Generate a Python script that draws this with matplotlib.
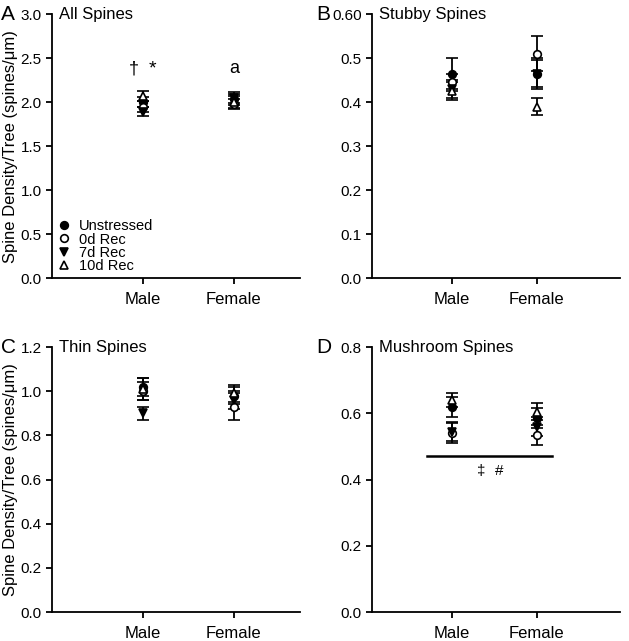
import numpy as np
import matplotlib
matplotlib.use("Agg")
import matplotlib.pyplot as plt
from matplotlib.lines import Line2D

plt.rcParams['font.family'] = ['Liberation Sans', 'DejaVu Sans']

groups = ["Unstressed", "0d Rec", "7d Rec", "10d Rec"]
sexes = ["Male", "Female"]

# mean values [male, female] for each group
all_mean = {"Unstressed": [2.00, 2.03], "0d Rec": [1.95, 1.98], "7d Rec": [1.89, 2.05], "10d Rec": [2.07, 2.00]}
all_err = {"Unstressed": [0.06, 0.06], "0d Rec": [0.06, 0.06], "7d Rec": [0.05, 0.06], "10d Rec": [0.06, 0.07]}
stubby_mean = {"Unstressed": [0.465, 0.465], "0d Rec": [0.445, 0.51], "7d Rec": [0.43, 0.465], "10d Rec": [0.425, 0.39]}
stubby_err = {"Unstressed": [0.035, 0.03], "0d Rec": [0.02, 0.04], "7d Rec": [0.02, 0.035], "10d Rec": [0.02, 0.02]}
thin_mean = {"Unstressed": [1.02, 0.98], "0d Rec": [1.00, 0.93], "7d Rec": [0.90, 0.96], "10d Rec": [1.01, 0.99]}
thin_err = {"Unstressed": [0.04, 0.04], "0d Rec": [0.04, 0.06], "7d Rec": [0.03, 0.04], "10d Rec": [0.05, 0.04]}
mush_mean = {"Unstressed": [0.62, 0.585], "0d Rec": [0.54, 0.535], "7d Rec": [0.545, 0.56], "10d Rec": [0.64, 0.605]}
mush_err = {"Unstressed": [0.03, 0.03], "0d Rec": [0.03, 0.03], "7d Rec": [0.03, 0.03], "10d Rec": [0.02, 0.025]}

stubby_ticklabels = ["0.0", "0.1", "0.2", "0.3", "0.4", "0.5", "0.60"]

styles = {"Unstressed": ("o", "black"), "0d Rec": ("o", "white"),
          "7d Rec": ("v", "black"), "10d Rec": ("^", "white")}

fig = plt.figure(figsize=(6.29, 6.41), dpi=100)


def panel(rect, letter, title, means, errs, ymax, ystep, xlim, ylabel, letter_x):
    ax = fig.add_axes(rect)
    x = np.arange(len(sexes))
    for g in groups:
        m, fc = styles[g]
        ax.errorbar(x, means[g], yerr=errs[g], fmt=m, color="black", mfc=fc, mec="black",
                    ms=5.5, mew=1.2, ecolor="black", elinewidth=1.3, capsize=4.5, capthick=1.3,
                    zorder=3)
    ax.set_xlim(*xlim)
    ax.set_ylim(0, ymax)
    ax.set_yticks(np.arange(0, ymax + ystep / 2, ystep))
    ax.set_yticklabels(["%.1f" % v for v in ax.get_yticks()])
    ax.set_xticks(x)
    ax.set_xticklabels(sexes)
    for s in ["top", "right"]:
        ax.spines[s].set_visible(False)
    for s in ["left", "bottom"]:
        ax.spines[s].set_linewidth(1.3)
    ax.tick_params(width=1.3, length=4, labelsize=11, direction="out")
    ax.tick_params(axis="x", labelsize=12, pad=6)
    if ylabel:
        ax.set_ylabel("Spine Density/Tree (spines/\u03bcm)", fontsize=12, labelpad=2)
    ax.text(letter_x, 1.0, letter, transform=ax.transAxes, fontsize=15,
            ha="left", va="center")
    ax.text(0.03, 1.0, title, transform=ax.transAxes, fontsize=12, ha="left", va="center")
    return ax


axA = panel([0.0827, 0.566, 0.394, 0.412], "A", "All Spines", all_mean, all_err,
            3.0, 0.5, (-1.0, 1.725), True, -0.205)
axB = panel([0.5914, 0.566, 0.394, 0.412], "B", "Stubby Spines", stubby_mean, stubby_err,
            0.6, 0.1, (-0.94, 1.976), False, -0.225)
axB.set_yticklabels(stubby_ticklabels)
axC = panel([0.0827, 0.0452, 0.394, 0.4134], "C", "Thin Spines", thin_mean, thin_err,
            1.2, 0.2, (-1.0, 1.725), True, -0.205)
axD = panel([0.5914, 0.0452, 0.394, 0.4134], "D", "Mushroom Spines", mush_mean, mush_err,
            0.8, 0.2, (-0.94, 1.976), False, -0.225)

handles = [Line2D([], [], ls="none", marker=styles[g][0], mfc=styles[g][1], mec="black",
                  mew=1.2, ms=5.5) for g in groups]
axA.legend(handles, groups, loc="lower left", bbox_to_anchor=(0.0, 0.0), frameon=False,
           fontsize=10.5, handletextpad=0.5, labelspacing=-0.05, borderaxespad=0.15,
           borderpad=0.2, handlelength=1.0)
axA.text(-0.1, 2.38, "\u2020", fontsize=13, ha="center", va="center")
axA.text(0.1, 2.38, "*", fontsize=14, ha="center", va="center")
axA.text(1.0, 2.38, "a", fontsize=13, ha="center", va="center")

axD.plot([-0.29, 1.18], [0.47, 0.47], color="black", lw=1.8)
axD.text(0.35, 0.425, "\u2021", fontsize=11, ha="center", va="center")
axD.text(0.56, 0.425, "#", fontsize=11, ha="center", va="center")

fig.savefig("out.png", dpi=100)
